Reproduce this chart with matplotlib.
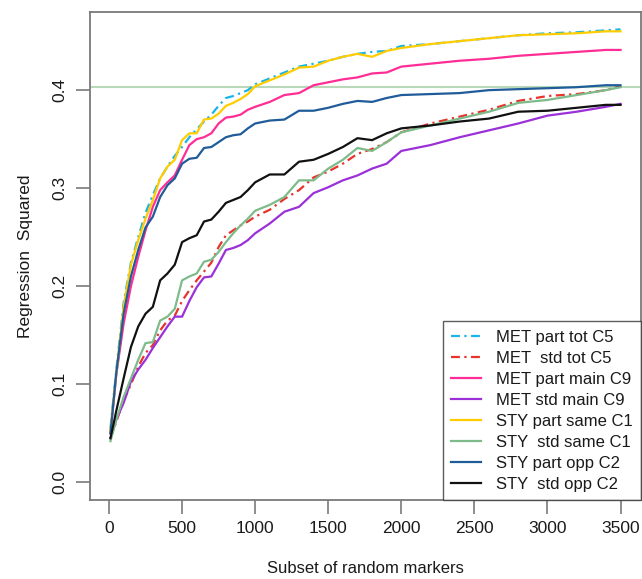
import numpy as np
import matplotlib
matplotlib.use("Agg")
import matplotlib.pyplot as plt

plt.rcParams['font.family'] = ['Liberation Sans', 'DejaVu Sans']

# subset sizes (number of random markers)
subset = [10, 50, 100, 150, 200, 250, 300, 350, 400, 450, 500, 550, 600, 650, 700,
          750, 800, 850, 900, 950, 1000, 1100, 1200, 1300, 1400, 1500, 1600, 1700,
          1800, 1900, 2000, 2200, 2400, 2600, 2800, 3000, 3200, 3400, 3500]

met_part_tot = [0.055, 0.115, 0.183, 0.224, 0.250, 0.275, 0.293, 0.310, 0.322, 0.333,
                0.342, 0.352, 0.360, 0.368, 0.375, 0.384, 0.392, 0.394, 0.397, 0.400,
                0.406, 0.412, 0.418, 0.424, 0.427, 0.430, 0.434, 0.437, 0.439, 0.440,
                0.445, 0.447, 0.450, 0.453, 0.456, 0.458, 0.459, 0.461, 0.462]
met_std_tot = [0.045, 0.062, 0.083, 0.100, 0.118, 0.132, 0.140, 0.155, 0.165, 0.170,
               0.185, 0.196, 0.206, 0.215, 0.224, 0.240, 0.252, 0.257, 0.262, 0.266,
               0.271, 0.278, 0.289, 0.298, 0.311, 0.317, 0.325, 0.335, 0.340, 0.347,
               0.357, 0.366, 0.373, 0.380, 0.389, 0.394, 0.396, 0.400, 0.404]
met_part_main = [0.050, 0.110, 0.162, 0.200, 0.230, 0.257, 0.281, 0.298, 0.306, 0.313,
                 0.329, 0.344, 0.350, 0.352, 0.356, 0.366, 0.372, 0.373, 0.375, 0.380,
                 0.383, 0.388, 0.395, 0.397, 0.405, 0.408, 0.411, 0.413, 0.417, 0.418,
                 0.424, 0.427, 0.430, 0.432, 0.435, 0.437, 0.439, 0.441, 0.441]
met_std_main = [0.045, 0.064, 0.081, 0.103, 0.115, 0.125, 0.137, 0.148, 0.159, 0.169,
                0.169, 0.185, 0.199, 0.209, 0.210, 0.223, 0.237, 0.239, 0.242, 0.247,
                0.254, 0.264, 0.276, 0.281, 0.295, 0.301, 0.308, 0.313, 0.320, 0.325,
                0.338, 0.344, 0.352, 0.359, 0.366, 0.374, 0.378, 0.383, 0.386]
sty_part_same = [0.053, 0.111, 0.179, 0.222, 0.247, 0.269, 0.288, 0.310, 0.322, 0.329,
                 0.349, 0.356, 0.356, 0.370, 0.371, 0.376, 0.384, 0.387, 0.391, 0.396,
                 0.404, 0.410, 0.416, 0.423, 0.424, 0.430, 0.434, 0.437, 0.434, 0.440,
                 0.443, 0.447, 0.450, 0.453, 0.456, 0.457, 0.458, 0.460, 0.460]
sty_std_same = [0.042, 0.064, 0.087, 0.106, 0.125, 0.142, 0.143, 0.165, 0.169, 0.177,
                0.206, 0.210, 0.213, 0.225, 0.227, 0.235, 0.245, 0.254, 0.262, 0.269,
                0.277, 0.283, 0.291, 0.308, 0.308, 0.320, 0.329, 0.341, 0.338, 0.347,
                0.357, 0.364, 0.371, 0.378, 0.387, 0.390, 0.395, 0.400, 0.403]
sty_part_opp = [0.050, 0.112, 0.172, 0.210, 0.237, 0.260, 0.271, 0.291, 0.303, 0.310,
                0.325, 0.330, 0.331, 0.341, 0.342, 0.347, 0.352, 0.354, 0.355, 0.361,
                0.366, 0.369, 0.370, 0.379, 0.379, 0.382, 0.386, 0.389, 0.388, 0.392,
                0.395, 0.396, 0.397, 0.400, 0.401, 0.402, 0.403, 0.405, 0.405]
sty_std_opp = [0.045, 0.073, 0.106, 0.138, 0.159, 0.172, 0.179, 0.206, 0.213, 0.222,
               0.245, 0.249, 0.252, 0.266, 0.268, 0.276, 0.285, 0.288, 0.291, 0.298,
               0.306, 0.314, 0.314, 0.327, 0.329, 0.335, 0.342, 0.351, 0.349, 0.356,
               0.361, 0.364, 0.368, 0.371, 0.378, 0.379, 0.382, 0.385, 0.385]

ref_line = 0.4035

series = [
    ("MET part tot C5", met_part_tot, '#1ab4e8', (0, (4, 2, 1, 2))),
    ("MET  std tot C5", met_std_tot, '#e8322c', (0, (4, 2, 1, 2))),
    ("MET part main C9", met_part_main, '#ff2d95', '-'),
    ("MET std main C9", met_std_main, '#9b30d9', '-'),
    ("STY part same C1", sty_part_same, '#ffcc00', '-'),
    ("STY  std same C1", sty_std_same, '#7dbb8a', '-'),
    ("STY part opp C2", sty_part_opp, '#1f5c99', '-'),
    ("STY  std opp C2", sty_std_opp, '#111111', '-'),
]

fig = plt.figure(figsize=(6.42, 5.79), dpi=100)
ax = fig.add_axes([90 / 642, 79 / 579, 551 / 642, 488.3 / 579])

ax.axhline(ref_line, color='#b8d8b8', lw=1.5, zorder=1)
for label, vals, col, ls in series:
    ax.plot(subset, vals, color=col, ls=ls, lw=1.6, label=label, zorder=2)

ax.set_xlim(-130, 3640)
ax.set_ylim(-0.018, 0.48)
ax.set_xticks(np.arange(0, 3501, 500))
ax.set_yticks([0.0, 0.1, 0.2, 0.3, 0.4])
ax.set_yticklabels(['0.0', '0.1', '0.2', '0.3', '0.4'], rotation=90, va='center')

for s in ax.spines.values():
    s.set_color('#7a7a7a')
    s.set_linewidth(1.3)
ax.tick_params(axis='both', length=10, width=1.2, color='#7a7a7a',
               labelsize=12.5, labelcolor='#1a1a1a')
ax.tick_params(axis='x', pad=5)
ax.tick_params(axis='y', pad=6)

ax.set_xlabel('Subset of random markers', fontsize=12, color='#1a1a1a', labelpad=18)
ax.set_ylabel('Regression  Squared', fontsize=12.5, color='#1a1a1a', labelpad=14)

leg = ax.legend(loc='lower right', borderaxespad=0, fontsize=12, frameon=True,
                fancybox=False, handlelength=1.8, handletextpad=0.9,
                labelspacing=0.36, borderpad=0.5)
leg.get_frame().set_edgecolor('#333333')
leg.get_frame().set_linewidth(1.0)
for t in leg.get_texts():
    t.set_color('#1a1a1a')

fig.savefig('out.png', dpi=100)
